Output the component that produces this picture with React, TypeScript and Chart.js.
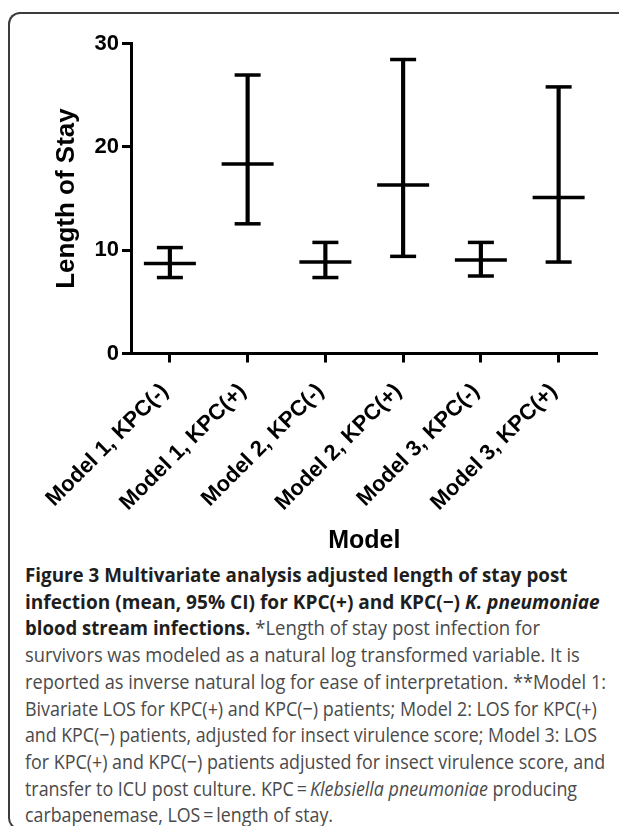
import React, { useEffect, useLayoutEffect, useRef } from "react";
import { Chart, registerables } from "chart.js";

Chart.register(...registerables);

// ---- data ----
const categories = [
  "Model 1, KPC(-)",
  "Model 1, KPC(+)",
  "Model 2, KPC(-)",
  "Model 2, KPC(+)",
  "Model 3, KPC(-)",
  "Model 3, KPC(+)",
];
const meanLOS = [8.7, 18.35, 8.85, 16.3, 9.05, 15.1];
const lowerCI = [7.35, 12.55, 7.35, 9.4, 7.5, 8.85];
const upperCI = [10.25, 26.95, 10.75, 28.45, 10.75, 25.8];
const yMin = 0;
const yMax = 30;
const yStep = 10;
const yTitle = "Length of Stay";
const xTitle = "Model";

type Seg = { t: string; b?: boolean; i?: boolean };
const captionLines: Seg[][] = [
  [{ t: "Figure 3 Multivariate analysis adjusted length of stay post", b: true }],
  [
    { t: "infection (mean, 95% CI) for KPC(+) and KPC(\u2212) ", b: true },
    { t: "K. pneumoniae", b: true, i: true },
  ],
  [
    { t: "blood stream infections.", b: true },
    { t: " *Length of stay post infection for" },
  ],
  [{ t: "survivors was modeled as a natural log transformed variable. It is" }],
  [{ t: "reported as inverse natural log for ease of interpretation. **Model 1:" }],
  [{ t: "Bivariate LOS for KPC(+) and KPC(\u2212) patients; Model 2: LOS for KPC(+)" }],
  [{ t: "and KPC(\u2212) patients, adjusted for insect virulence score; Model 3: LOS" }],
  [{ t: "for KPC(+) and KPC(\u2212) patients adjusted for insect virulence score, and" }],
  [
    { t: "transfer to ICU post culture. KPC\u2009=\u2009" },
    { t: "Klebsiella pneumoniae", i: true },
    { t: " producing" },
  ],
  [{ t: "carbapenemase, LOS\u2009=\u2009length of stay." }],
];
const captionWidths = [542, 575, 515, 555, 581, 572, 572, 580, 552, 308];

const CANVAS_W = 617;
const CANVAS_H = 545;

export default function App() {
  const canvasRef = useRef<HTMLCanvasElement | null>(null);
  const lineRefs = useRef<(HTMLDivElement | null)[]>([]);

  useEffect(() => {
    const canvas = canvasRef.current;
    if (!canvas) return;
    Chart.defaults.font.family = "'Liberation Sans', Arial, sans-serif";
    const pointDs = (data: number[], r: number) => ({
      type: "line" as const,
      data,
      showLine: false,
      pointStyle: "line" as const,
      pointRadius: r,
      pointHoverRadius: r,
      pointBorderWidth: 3.5,
      pointHoverBorderWidth: 3.5,
      pointBorderColor: "#000",
      pointBackgroundColor: "#000",
      borderColor: "#000",
      order: 1,
      clip: false as const,
    });
    const chart = new Chart(canvas, {
      type: "bar",
      data: {
        labels: categories,
        datasets: [
          {
            type: "bar",
            data: lowerCI.map((l, i) => [l, upperCI[i]]) as any,
            backgroundColor: "#000",
            borderWidth: 0,
            barThickness: 3.5,
            order: 2,
          },
          pointDs(upperCI, 13),
          pointDs(lowerCI, 13),
          pointDs(meanLOS, 26),
        ] as any,
      },
      options: {
        responsive: false,
        animation: false,
        layout: { padding: { left: 0, top: 22, right: 20, bottom: 0 } },
        plugins: { legend: { display: false }, tooltip: { enabled: false } },
        scales: {
          x: {
            offset: true,
            grid: {
              offset: false,
              drawOnChartArea: false,
              drawTicks: true,
              tickLength: 9,
              tickWidth: 3,
              tickColor: "#000",
              color: "#000",
            },
            border: { display: true, color: "#000", width: 3 },
            ticks: {
              color: "#000",
              font: { size: 22, weight: "bold" },
              minRotation: 45,
              maxRotation: 45,
              autoSkip: false,
              padding: 16,
              labelOffset: -5,
            },
            title: {
              display: true,
              text: xTitle,
              color: "#000",
              font: { size: 25, weight: "bold" },
              padding: { top: 0, bottom: 3 },
            },
            afterFit: (s: any) => {
              s.height = CANVAS_H - 339.5;
            },
          } as any,
          y: {
            min: yMin,
            max: yMax,
            ticks: {
              stepSize: yStep,
              color: "#000",
              font: { size: 22, weight: "bold" },
              padding: 3,
            },
            grid: {
              drawOnChartArea: false,
              drawTicks: true,
              tickLength: 9,
              tickWidth: 3,
              tickColor: "#000",
              color: "#000",
            },
            border: { display: true, color: "#000", width: 3 },
            title: {
              display: true,
              text: yTitle,
              color: "#000",
              font: { size: 26, weight: "bold" },
              padding: { top: 41, bottom: 0 },
            },
            afterFit: (s: any) => {
              s.width = 121;
            },
          } as any,
        },
      },
    });
    return () => chart.destroy();
  }, []);

  useLayoutEffect(() => {
    const fit = () => {
      lineRefs.current.forEach((el, i) => {
        if (!el) return;
        el.style.transform = "none";
        const w = el.offsetWidth;
        if (w > 0) el.style.transform = `scaleX(${captionWidths[i] / w})`;
      });
    };
    fit();
    if ((document as any).fonts && (document as any).fonts.ready) {
      (document as any).fonts.ready.then(fit);
    }
  }, []);

  return (
    <div
      style={{
        position: "relative",
        top: 4,
        width: 619,
        height: 818,
        boxSizing: "border-box",
        border: "2px solid #3c3c3c",
        borderRight: "none",
        borderRadius: "12px 0 0 12px",
        background: "#fff",
      }}
    >
      <canvas
        ref={canvasRef}
        width={CANVAS_W}
        height={CANVAS_H}
        style={{ position: "absolute", left: 0, top: 0, width: CANVAS_W, height: CANVAS_H }}
      />
      <div
        style={{
          position: "absolute",
          left: 15,
          top: 548,
          fontFamily: "'Open Sans', 'Noto Sans', sans-serif",
          fontSize: 20,
          lineHeight: "26.7px",
          color: "#4a4a4a",
        }}
      >
        {captionLines.map((segs, li) => (
          <div
            key={li}
            ref={(el) => {
              lineRefs.current[li] = el;
            }}
            style={{
              whiteSpace: "nowrap",
              width: "max-content",
              transformOrigin: "0 50%",
            }}
          >
            {segs.map((s, si) => (
              <span
                key={si}
                style={{
                  fontWeight: s.b ? 700 : 400,
                  fontStyle: s.i ? "italic" : "normal",
                  color: s.b ? "#1e1e1e" : "#4a4a4a",
                }}
              >
                {s.t}
              </span>
            ))}
          </div>
        ))}
      </div>
    </div>
  );
}
